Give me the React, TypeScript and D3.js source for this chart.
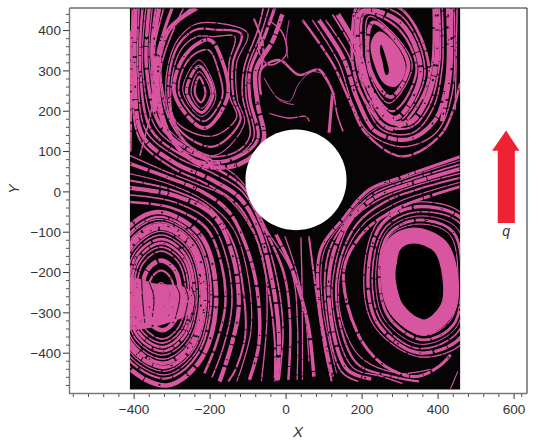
import React from "react";
import * as d3 from "d3";

type P = [number, number];

const xMajor = [-400, -200, 0, 200, 400, 600];
const yMajor = [-400, -300, -200, -100, 0, 100, 200, 300, 400];
const xMinor = [-560, -520, -480, -440, -360, -320, -280, -240, -160, -120, -80, -40, 40, 80, 120, 160, 240, 280, 320, 360, 440, 480, 520, 560, 620];
const yMinor = [-480, -460, -440, -420, -380, -360, -340, -320, -280, -260, -240, -220, -180, -160, -140, -120, -80, -60, -40, -20, 20, 40, 60, 80, 120, 140, 160, 180, 220, 240, 260, 280, 320, 340, 360, 380, 420, 440];

const fieldBox: P[] = [[-411, 456], [458, -490]];
const obstacle = { cx: 26, cy: 30, rx: 133, ry: 125 };
const arrowShape: P[] = [[579, 152], [542, 102], [557, 102], [557, -77], [602, -77], [602, 102], [614, 102]];

// Closed streamlines
const loopsA: P[][] = [
  [[-229, 285], [-212, 245], [-224, 222], [-240, 245]],
  [[-229, 298], [-198, 245], [-222, 207], [-250, 245]],
  [[-229, 312], [-192, 245], [-222, 197], [-262, 248]],
  [[-229, 327], [-185, 236], [-222, 187], [-272, 253]],
  [[-205, 352], [-178, 300], [-168, 236], [-218, 175], [-282, 245], [-255, 330]],
  [[-202, 377], [-170, 330], [-154, 236], [-215, 158], [-294, 245], [-265, 340]],
  [[-190, 385], [-135, 385], [-150, 320], [-148, 235], [-130, 185], [-197, 138], [-290, 175], [-303, 260], [-278, 350], [-235, 385]],
  [[-185, 402], [-118, 392], [-140, 320], [-138, 232], [-120, 178], [-193, 112], [-288, 162], [-310, 260], [-285, 362], [-238, 402]],
  [[-176, 418], [-101, 393], [-130, 320], [-128, 230], [-110, 170], [-190, 90], [-290, 150], [-317, 260], [-290, 370], [-240, 415]],
];
const loopsB: P[][] = [
  [[228, 420], [285, 380], [322, 311], [275, 235], [225, 295], [214, 369]],
  [[218, 435], [290, 385], [332, 311], [271, 220], [220, 290], [209, 369]],
  [[208, 442], [295, 405], [343, 300], [280, 200], [215, 275], [198, 369]],
  [[200, 448], [300, 420], [354, 294], [288, 183], [215, 260], [188, 369]],
  [[198, 460], [304, 436], [365, 290], [284, 168], [203, 260], [181, 380]],
  [[195, 470], [306, 451], [376, 286], [280, 154], [190, 260], [174, 393]],
];
const loopsC: P[][] = [
  [[335, -108], [405, -135], [432, -210], [425, -290], [365, -336], [290, -290], [270, -200], [285, -130]],
  [[345, -80], [430, -105], [452, -225], [432, -320], [360, -356], [275, -300], [250, -200], [272, -110]],
  [[345, -70], [440, -100], [462, -230], [440, -330], [360, -367], [270, -310], [245, -200], [270, -105]],
  [[345, -60], [450, -90], [470, -230], [445, -340], [352, -378], [258, -315], [236, -200], [265, -97]],
  [[345, -50], [460, -80], [480, -230], [450, -350], [345, -388], [250, -320], [227, -200], [260, -90]],
  [[345, -37], [465, -70], [488, -230], [460, -360], [348, -399], [240, -325], [216, -200], [252, -80]],
  [[345, -25], [470, -60], [495, -230], [470, -370], [350, -409], [230, -330], [205, -200], [245, -70]],
];
const loopsD: P[][] = [
  [[-329, -225], [-305, -255], [-329, -290], [-352, -255]],
  [[-329, -195], [-304, -213], [-294, -255], [-304, -300], [-329, -320], [-354, -300], [-364, -255], [-354, -213]],
  [[-329, -170], [-293, -194], [-279, -255], [-293, -318], [-325, -343], [-365, -318], [-379, -255], [-365, -194]],
  [[-329, -147], [-282, -177], [-264, -255], [-282, -334], [-325, -365], [-376, -334], [-394, -255], [-376, -177]],
  [[-329, -127], [-271, -163], [-249, -255], [-271, -349], [-325, -385], [-387, -349], [-409, -255], [-387, -163]],
  [[-329, -107], [-261, -148], [-234, -255], [-261, -363], [-325, -405], [-397, -363], [-424, -255], [-397, -148]],
  [[-329, -90], [-251, -136], [-221, -255], [-251, -377], [-322, -425], [-407, -377], [-437, -255], [-407, -136]],
  [[-332, -75], [-243, -125], [-209, -258], [-243, -392], [-320, -445], [-415, -392], [-449, -255], [-415, -125]],
  [[-335, -62], [-234, -116], [-197, -262], [-234, -405], [-318, -463], [-424, -405], [-461, -255], [-424, -116]],
  [[-340, -50], [-225, -108], [-184, -265], [-225, -417], [-315, -480], [-433, -417], [-474, -255], [-433, -108]],
  [[-329, -137], [-276, -170], [-256, -255], [-276, -342], [-325, -375], [-382, -342], [-402, -255], [-382, -170]],
  [[-329, -117], [-266, -155], [-241, -255], [-266, -356], [-325, -395], [-392, -356], [-417, -255], [-392, -155]],
  [[-329, -98], [-256, -142], [-227, -255], [-256, -370], [-323, -415], [-402, -370], [-430, -255], [-402, -142]],
  [[-333, -82], [-247, -130], [-215, -256], [-247, -385], [-321, -435], [-411, -385], [-443, -255], [-411, -130]],
  [[-337, -68], [-238, -120], [-203, -260], [-238, -398], [-319, -454], [-420, -398], [-455, -255], [-420, -120]],
];
const fleckLines: P[][] = [
  [[-295, -225], [-280, -255], [-292, -315]],
  [[-272, -225], [-258, -260], [-272, -325]],
  [[-250, -235], [-240, -265], [-252, -325]],
  [[-380, -215], [-378, -260], [-372, -325]],
  [[-360, -225], [-348, -260], [-352, -310]],
];

// Open streamlines
const wrapsA: P[][] = [
  [[-300, 456], [-345, 300], [-315, 150], [-230, 75], [-130, 85], [-75, 130], [-95, 230], [-95, 300], [-55, 390], [-30, 456]],
  [[-270, 456], [-330, 300], [-300, 165], [-215, 90], [-130, 100], [-95, 140], [-115, 240], [-110, 310], [-75, 400], [-60, 456]],
  [[-235, 456], [-310, 400], [-338, 260], [-300, 130], [-220, 66], [-120, 70], [-60, 125], [-75, 220], [-80, 300], [-35, 375], [-10, 440]],
  [[-250, 456], [-322, 380], [-324, 250], [-285, 150], [-205, 80], [-125, 92], [-85, 135], [-105, 235], [-102, 305], [-65, 395], [-45, 456]],
];
const throughLines: P[][] = [
  [[-404, 456], [-405, 280], [-385, 130], [-300, 60], [-210, 20], [-130, -30], [-80, -110], [-45, -250], [-30, -370], [-30, -470]],
  [[-396, 456], [-398, 290], [-378, 140], [-293, 72], [-200, 32], [-122, -15], [-72, -95], [-35, -230], [-19, -355], [-24, -468]],
  [[-387, 456], [-390, 300], [-368, 150], [-285, 85], [-190, 45], [-115, 0], [-65, -85], [-25, -210], [-8, -340], [-18, -466]],
  [[-378, 456], [-384, 305], [-356, 155], [-275, 92], [-180, 55], [-112, 10], [-57, -90], [-5, -205], [11, -335], [6, -466]],
  [[-369, 456], [-378, 310], [-343, 160], [-265, 100], [-170, 65], [-112, 20], [-50, -95], [15, -200], [30, -330], [29, -466]],
  [[-360, 456], [-368, 315], [-333, 168], [-262, 108], [-190, 72]],
  [[-352, 456], [-360, 320], [-325, 175], [-260, 115], [-195, 80]],
  [[-343, 456], [-355, 340], [-330, 200]],
  [[-334, 456], [-350, 350], [-345, 200]],
  [[-322, 456], [-352, 330], [-352, 220], [-385, 90]],
  [[-411, 400], [-408, 250], [-410, 100]],
  [[-411, 90], [-317, 51], [-229, 18], [-159, -12], [-106, -69], [-62, -160], [-50, -300], [-65, -470]],
  [[-411, 70], [-312, 36], [-220, 0], [-150, -50], [-103, -140], [-75, -250], [-72, -380], [-98, -470]],
  [[-411, 45], [-310, 20], [-210, -25], [-140, -90], [-100, -210], [-92, -340], [-115, -430], [-130, -470]],
  [[-411, 28], [-300, 5], [-200, -42], [-140, -125], [-112, -250], [-108, -360], [-133, -440], [-152, -470]],
  [[-411, 10], [-290, -10], [-190, -60], [-140, -160], [-125, -290], [-150, -400], [-175, -470]],
  [[-411, -8], [-295, -25], [-200, -75], [-155, -170], [-143, -285], [-167, -390], [-195, -460]],
  [[-411, -25], [-300, -40], [-210, -90], [-170, -180], [-160, -280], [-185, -380], [-215, -450]],
  [[39, -112], [42, -235], [43, -330], [43, -466]],
  [[-27, -105], [15, -190], [58, -330], [73, -458]],
  [[-3, -110], [28, -200], [50, -300], [60, -420]],
  [[60, -110], [78, -240], [100, -380], [120, -470]],
];
const flowsRight: P[][] = [
  [[458, 87], [306, 37], [218, 5], [148, -69], [91, -144], [87, -276], [122, -458]],
  [[458, 78], [312, 33], [224, 0], [155, -70], [100, -147], [95, -273], [133, -450]],
  [[458, 68], [320, 28], [230, -5], [160, -70], [112, -150], [103, -270], [145, -445], [190, -470]],
  [[458, 57], [326, 20], [237, -12], [168, -70], [124, -153], [113, -272], [160, -440], [225, -464]],
  [[458, 46], [332, 13], [244, -20], [175, -69], [135, -157], [122, -276], [174, -434], [253, -458], [306, -475]],
  [[458, 35], [345, 6], [262, -24], [188, -78], [142, -170], [134, -285], [186, -425], [280, -458], [350, -470]],
  [[458, 24], [360, -3], [284, -30], [198, -86], [147, -180], [142, -300], [196, -410], [300, -450], [380, -440]],
  [[458, 13], [376, -11], [306, -36], [210, -94], [152, -194], [192, -358], [262, -433], [341, -458], [402, -433], [433, -404]],
  [[432, -490], [452, -445]],
];
const archesB: P[][] = [
  [[104, 426], [166, 336], [201, 236], [253, 154], [332, 146], [385, 204], [411, 311], [411, 456]],
  [[86, 426], [152, 328], [188, 228], [235, 150], [320, 130], [390, 175], [424, 278], [426, 456]],
  [[69, 426], [139, 319], [174, 220], [218, 146], [306, 112], [394, 146], [437, 244], [442, 456]],
  [[43, 426], [122, 319], [166, 228], [209, 146], [306, 88], [411, 146], [458, 269]],
  [[136, 440], [190, 350], [220, 255], [265, 180], [325, 172], [368, 225], [396, 330], [395, 456]],
  [[122, 440], [180, 345], [210, 245], [258, 167], [328, 160], [376, 212], [404, 320], [403, 456]],
  [[122, 244], [113, 146]],
  [[90, 300], [122, 250], [135, 190], [150, 150]],
  [[434, 456], [432, 300], [410, 175]],
  [[450, 456], [447, 300], [445, 200]],
  [[388, 456], [385, 320], [360, 230]],
];
const centreLines: P[][] = [
  [[-27, 236], [8, 224], [34, 269], [69, 298], [104, 290]],
  [[-45, 195], [8, 183], [52, 187], [61, 175]],
  [[-66, 240], [-66, 303], [-18, 327], [34, 290], [87, 303], [126, 240]],
  [[-58, 283], [-18, 228], [21, 216]],
  [[-45, 425], [-10, 395], [0, 340], [-45, 315], [-72, 350], [-62, 405]],
  [[8, 426], [0, 370], [5, 330]],
  [[-85, 430], [-60, 360], [-66, 303]],
];

const pinkFills: P[][] = [
  [[244, 398], [293, 360], [315, 303], [288, 261], [258, 269], [231, 319], [223, 369]],
  [[-425, -215], [-340, -228], [-270, -235], [-240, -262], [-245, -295], [-300, -322], [-425, -335]],
];
const darkEyes: P[][] = [
  [[341, -136], [395, -160], [405, -220], [390, -285], [354, -312], [310, -280], [288, -209], [300, -160]],
  [[250, 365], [262, 335], [270, 295], [263, 290], [253, 325], [247, 350]],
];

const WIDTHS = [2.0, 1.0, 2.8, 0.9, 1.6, 3.4, 1.2];
const DASHES = ["34 1 13 2 41 1 9 2", "19 2 37 1 11 1 23 2", "47 1 15 2 9 1", "13 1 24 2 31 1", "29 2 7 1 21 2"];
const SPECKS = ["1 29 2 43", "2 37 1 27", "1 53 1 23 2 31"];

const W = 540, H = 445;
const x = d3.scaleLinear().domain([-570, 634]).range([69.5, 527]);
const y = d3.scaleLinear().domain([456, -500]).range([8, 393.5]);
const PINK = "#d8569f";

const openPath = d3.line<P>().x(d => x(d[0])).y(d => y(d[1])).curve(d3.curveCatmullRom.alpha(0.5));
const closedPath = d3.line<P>().x(d => x(d[0])).y(d => y(d[1])).curve(d3.curveCatmullRomClosed.alpha(0.5));
const fmt = (v: number) => String(v).replace("-", "\u2212");
const FONT = "'Liberation Sans', Arial, sans-serif";

function Streams({ curves, closed, scale = 1, offset = 0 }: { curves: P[][]; closed?: boolean; scale?: number; offset?: number }) {
  const gen = closed ? closedPath : openPath;
  return (
    <g fill="none" strokeLinecap="butt">
      {curves.map((c, i) => {
        const w = WIDTHS[(i + offset) % WIDTHS.length] * scale;
        const d = gen(c) ?? "";
        return (
          <g key={i}>
            <path d={d} stroke="#7a2f86" strokeWidth={0.8} />
            <path d={d} stroke={PINK} strokeWidth={w} strokeDasharray={DASHES[(i + offset) % DASHES.length]} />
            <path d={d} stroke="#0a0508" strokeWidth={w * 0.35} strokeDasharray={SPECKS[(i + offset) % SPECKS.length]} />
          </g>
        );
      })}
    </g>
  );
}

export default function App() {
  const bx = x(fieldBox[0][0]), by = y(fieldBox[0][1]);
  const bw = x(fieldBox[1][0]) - bx, bh = y(fieldBox[1][1]) - by;
  const pxR = x(obstacle.rx) - x(0), pyR = y(0) - y(obstacle.ry);
  const axisCol = "#777";
  return (
    <svg width={W} height={H} style={{ position: "absolute", left: 0, top: 0, display: "block", background: "#fff" }} fontFamily={FONT}>
      <defs>
        <clipPath id="field"><rect x={bx} y={by} width={bw} height={bh} /></clipPath>
        <filter id="soft" x="0" y="0" width="1" height="1"><feGaussianBlur stdDeviation="0.35" /></filter>
      </defs>
      <rect x={bx} y={by} width={bw} height={bh} fill="#060405" />
      <g clipPath="url(#field)">
        <g filter="url(#soft)">
          {pinkFills.map((p, i) => <path key={i} d={closedPath(p) ?? ""} fill={PINK} />)}
          <Streams curves={loopsA} closed scale={1.1} />
          <Streams curves={loopsB} closed scale={1.4} offset={2} />
          <Streams curves={loopsC.slice(1)} closed scale={1} offset={1} />
          <path d={closedPath(loopsC[0]) ?? ""} fill="none" stroke={PINK} strokeWidth={16} />
          <Streams curves={loopsD} closed scale={1.35} offset={3} />
          <g fill="none">
            {fleckLines.map((c, i) => <path key={i} d={openPath(c) ?? ""} stroke="#150a12" strokeWidth={1} strokeDasharray={DASHES[i]} />)}
          </g>
          <Streams curves={wrapsA} scale={1.6} />
          <Streams curves={throughLines} scale={1.25} offset={4} />
          <Streams curves={flowsRight} scale={1.1} offset={2} />
          <Streams curves={archesB} scale={1.5} offset={1} />
          <Streams curves={centreLines} scale={0.7} offset={3} />
          {darkEyes.map((p, i) => <path key={i} d={closedPath(p) ?? ""} fill="#060405" />)}
        </g>
      </g>
      <ellipse cx={x(obstacle.cx)} cy={y(obstacle.cy)} rx={pxR} ry={pyR} fill="#fff" />

      <path d={`M${x.range()[0]},${y.range()[0]}H${x.range()[1]}V${y.range()[1]}`} fill="none" stroke="#222" strokeWidth={1} />
      <path d={`M${x.range()[0]},${y.range()[0]}V${y.range()[1]}H${x.range()[1]}`} fill="none" stroke={axisCol} strokeWidth={1.4} />

      {yMajor.map(v => (
        <g key={v}>
          <line x1={63} x2={69} y1={y(v)} y2={y(v)} stroke="#333" />
          <text x={61} y={y(v) + 4.8} textAnchor="end" fontSize={13.6} fill="#333">{fmt(v)}</text>
        </g>
      ))}
      {yMinor.map(v => <line key={v} x1={66} x2={69} y1={y(v)} y2={y(v)} stroke="#555" />)}
      {xMajor.map(v => (
        <g key={v}>
          <line x1={x(v)} x2={x(v)} y1={394} y2={399} stroke="#333" />
          <text x={x(v)} y={414} textAnchor="middle" fontSize={13.6} fill="#333">{fmt(v)}</text>
        </g>
      ))}
      {xMinor.map(v => <line key={v} x1={x(v)} x2={x(v)} y1={394} y2={397} stroke="#555" />)}

      <text x={298} y={437} textAnchor="middle" fontSize={15} fontStyle="italic" fill="#333">X</text>
      <text transform="translate(19,189) rotate(-90)" textAnchor="middle" fontSize={14} fontStyle="italic" fill="#333">Y</text>

      <path d={(d3.line<P>().x(d => x(d[0])).y(d => y(d[1])))(arrowShape) + "Z"} fill="#ee2233" />
      <text x={x(579)} y={236} textAnchor="middle" fontSize={14} fontStyle="italic" fill="#333">q</text>
    </svg>
  );
}
